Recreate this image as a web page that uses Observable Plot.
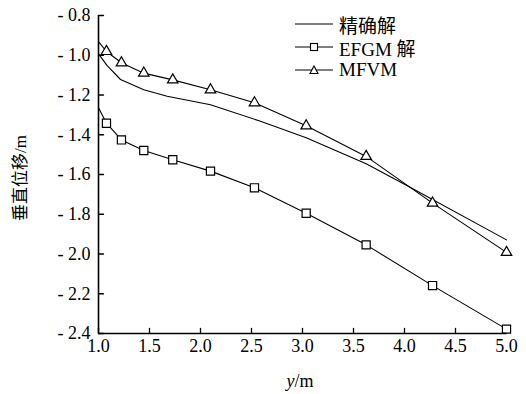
<!DOCTYPE html>
<html>
<head>
<meta charset="utf-8">
<script src="https://cdn.jsdelivr.net/npm/d3@7"></script>
<script src="https://cdn.jsdelivr.net/npm/@observablehq/plot@0.6"></script>
<style>
  body { margin: 0; background: #fff; }
  #wrap { position: relative; width: 526px; height: 394px; overflow: hidden; background: #fff; }
  .serif { font-family: "Liberation Serif", "Times New Roman", Times, "Noto Sans CJK SC", serif; color: #000; }
  #ylabel { position: absolute; left: 18px; top: 178px; transform: translate(-50%, -50%) rotate(-90deg); white-space: nowrap; font-size: 17px; }
  #xlabel { position: absolute; left: 300px; top: 381px; transform: translate(-50%, -50%); white-space: nowrap; font-size: 18px; }
  .lg { position: absolute; left: 295px; height: 22px; display: flex; align-items: center; white-space: nowrap; font-size: 19px; }
  .lg svg { width: 38px; height: 22px; margin-right: 6px; }
</style>
</head>
<body>
<div id="wrap"></div>
<script>
// x positions (y/m)
const xValues = [1.0, 1.078, 1.225, 1.444, 1.728, 2.098, 2.529, 3.036, 3.624, 4.275, 5.0];
// EFGM solution
const efgmValues = [-1.264, -1.342, -1.426, -1.479, -1.526, -1.583, -1.667, -1.795, -1.954, -2.159, -2.378];
// MFVM solution
const mfvmValues = [-0.931, -0.981, -1.038, -1.090, -1.124, -1.174, -1.239, -1.355, -1.509, -1.744, -1.992];
// exact solution
const exactX = [1.0, 1.085, 1.216, 1.444, 1.673, 2.098, 2.588, 3.036, 3.624, 4.05, 5.0];
const exactValues = [-0.993, -1.052, -1.122, -1.174, -1.206, -1.249, -1.332, -1.415, -1.546, -1.663, -1.929];

const seriesNames = ["精确解", "EFGM 解", "MFVM"];
const xTicks = [1.0, 1.5, 2.0, 2.5, 3.0, 3.5, 4.0, 4.5, 5.0];
const yTicks = [-0.8, -1.0, -1.2, -1.4, -1.6, -1.8, -2.0, -2.2, -2.4];

const exact = exactX.map((x, i) => ({x, y: exactValues[i]}));
const efgm = xValues.map((x, i) => ({x, y: efgmValues[i], i}));
const mfvm = xValues.map((x, i) => ({x, y: mfvmValues[i], i}));

// a plain tick stroke for inward ticks
const tickShape = {draw(context, l) { context.moveTo(0, 0); context.lineTo(0, -l); }};

const chart = Plot.plot({
  width: 526,
  height: 394,
  marginLeft: 98,
  marginRight: 20,
  marginTop: 15,
  marginBottom: 61,
  style: {fontFamily: "'Liberation Serif', 'Times New Roman', Times, serif", fontSize: "18px", color: "#000", background: "#fff"},
  x: {domain: [1, 5]},
  y: {domain: [-2.4, -0.8]},
  marks: [
    Plot.axisX({ticks: xTicks, tickFormat: d => d.toFixed(1), tickSize: 0, tickPadding: 6, label: null}),
    Plot.axisY({ticks: yTicks, tickFormat: d => "- " + (-d).toFixed(1), tickSize: 0, tickPadding: 8, label: null}),
    Plot.vector(xTicks, {x: d => d, frameAnchor: "bottom", length: 5, rotate: 0, anchor: "start", shape: tickShape, stroke: "#000", strokeWidth: 1.3}),
    Plot.vector(yTicks, {y: d => d, frameAnchor: "left", length: 5, rotate: 90, anchor: "start", shape: tickShape, stroke: "#000", strokeWidth: 1.3}),
    Plot.line(exact, {x: "x", y: "y", stroke: "#000", strokeWidth: 1.1}),
    Plot.line(efgm, {x: "x", y: "y", stroke: "#000", strokeWidth: 1.1}),
    Plot.line(mfvm, {x: "x", y: "y", stroke: "#000", strokeWidth: 1.1}),
    Plot.dot(efgm.filter(d => d.i > 0), {x: "x", y: "y", symbol: "square", r: 4.6, stroke: "#000", fill: "#fff", strokeWidth: 1.2}),
    Plot.dot(mfvm.filter(d => d.i > 0), {x: "x", y: "y", symbol: "triangle", r: 3.9, stroke: "#000", fill: "#fff", strokeWidth: 1.2}),
    Plot.ruleX([1], {stroke: "#000", strokeWidth: 1.6}),
    Plot.ruleY([-2.4], {stroke: "#000", strokeWidth: 1.6})
  ]
});

const wrap = document.getElementById("wrap");
wrap.appendChild(chart);

// legend
const symbols = ["none", "square", "triangle"];
seriesNames.forEach((name, i) => {
  const row = document.createElement("div");
  row.className = "lg serif";
  row.style.top = (13 + 23 * i) + "px";
  let marker = "";
  if (symbols[i] === "square") marker = '<rect x="15.5" y="7.5" width="7" height="7" fill="#fff" stroke="#000" stroke-width="1.1"/>';
  if (symbols[i] === "triangle") marker = '<path d="M19,7 L23,14.5 L15,14.5 Z" fill="#fff" stroke="#000" stroke-width="1.1"/>';
  row.innerHTML = '<svg viewBox="0 0 38 22"><line x1="0" x2="38" y1="11" y2="11" stroke="#000" stroke-width="1.1"/>' + marker + '</svg><span>' + name + '</span>';
  wrap.appendChild(row);
});

const yl = document.createElement("div");
yl.id = "ylabel"; yl.className = "serif";
yl.textContent = "垂直位移/m";
wrap.appendChild(yl);

const xl = document.createElement("div");
xl.id = "xlabel"; xl.className = "serif";
xl.innerHTML = "<i>y</i>/m";
wrap.appendChild(xl);
</script>
</body>
</html>
